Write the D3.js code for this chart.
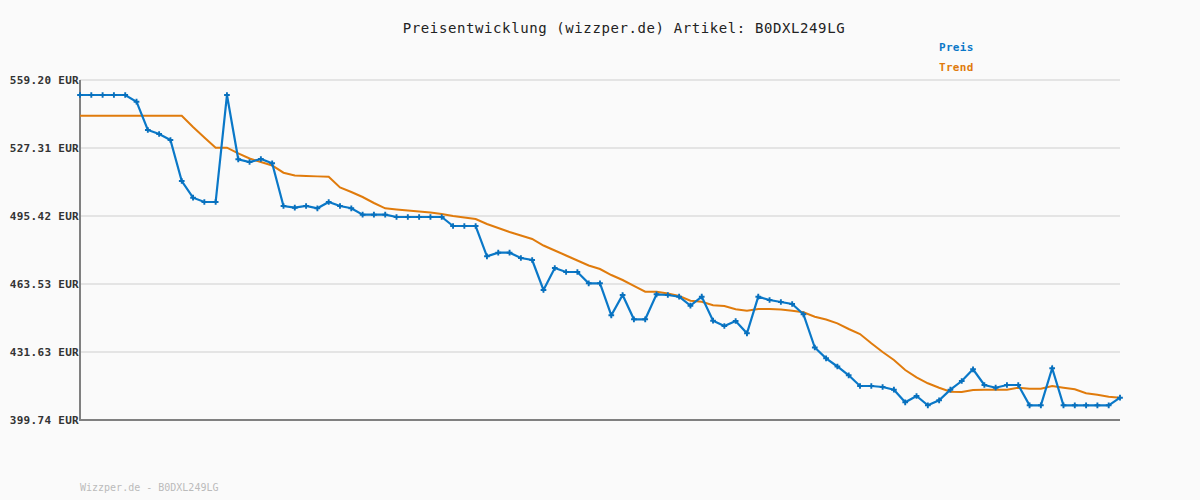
<!DOCTYPE html>
<html><head><meta charset="utf-8">
<script src="https://cdn.jsdelivr.net/npm/d3@7"></script>
<style>
html,body{margin:0;padding:0;background:#fafafa;}
svg{display:block;font-family:"DejaVu Sans Mono",monospace;}
</style></head>
<body><svg id="chart" width="1200" height="500"></svg>
<script>
const titleText = "Preisentwicklung (wizzper.de) Artikel: B0DXL249LG";
const footerText = "Wizzper.de - B0DXL249LG";
const seriesNames = ["Preis", "Trend"];
const yTicks = [399.74, 431.63, 463.53, 495.42, 527.31, 559.20];
const preis = [552.16,552.16,552.16,552.16,552.16,549.02,535.75,533.87,531.06,511.83,
504.00,501.98,501.98,552.16,522.01,520.74,522.15,520.13,500.11,499.31,
500.11,499.03,501.98,500.11,499.03,496.03,496.03,496.03,494.95,494.95,
494.95,494.95,494.95,490.73,490.73,490.73,476.52,478.20,478.20,475.72,
474.78,460.71,471.03,469.15,469.15,463.85,463.85,448.84,458.36,446.97,
446.97,458.69,458.36,457.57,453.35,457.57,446.31,443.83,446.17,440.40,
457.57,456.02,455.08,454.14,449.31,433.74,428.68,424.83,420.70,415.69,
415.69,415.22,413.95,408.04,411.00,406.63,408.98,413.95,418.03,423.52,
416.15,414.89,416.15,416.15,406.63,406.63,423.99,406.63,406.63,406.63,
406.63,406.63,410.20];
const trend = [542.46,542.46,542.46,542.46,542.46,542.46,542.46,542.46,542.46,542.46,
537.16,532.23,527.45,527.45,524.82,522.38,520.74,519.10,515.72,514.41,
514.18,514.00,513.85,508.78,506.67,504.33,501.51,499.03,498.46,498.00,
497.53,497.06,496.35,495.42,494.71,494.01,491.66,489.79,487.91,486.27,
484.63,481.58,479.24,476.89,474.55,472.20,470.56,467.74,465.40,462.59,
459.91,459.91,459.07,457.90,455.69,455.22,453.53,453.20,451.66,451.00,
451.80,451.80,451.56,451.00,450.25,448.19,446.87,445.09,442.42,440.07,
435.71,431.63,427.88,423.19,419.77,416.95,414.89,413.01,412.87,413.81,
413.95,413.95,413.95,414.89,414.42,414.42,415.69,414.89,414.14,412.26,
411.61,410.67,410.20];

const svg = d3.select("#chart");
const L = 80, R = 1120, T = 80, B = 420;
const x = d3.scaleLinear().domain([0, preis.length - 1]).range([L, R]);
const y = d3.scaleLinear().domain([yTicks[0], yTicks[yTicks.length - 1]]).range([B, T]);
const blue = "#0a78c8", orange = "#e07b0c";

// grid
svg.append("g").selectAll("line").data(yTicks.slice(1)).join("line")
  .attr("x1", L).attr("x2", R).attr("y1", d => y(d)).attr("y2", d => y(d))
  .attr("stroke", "#e4e4e4").attr("stroke-width", 2);

// y axis labels
const yAxis = d3.axisLeft(y).tickValues(yTicks).tickSize(0).tickPadding(1)
  .tickFormat(d => d.toFixed(2) + " EUR");
const ya = svg.append("g").attr("transform", `translate(${L},0)`).call(yAxis);
ya.select(".domain").remove();
ya.selectAll("text").attr("font-family", "DejaVu Sans Mono, monospace")
  .attr("font-size", 11).attr("font-weight", "bold").attr("fill", "#333")
  .attr("letter-spacing", "0.3px");

// axis lines
svg.append("line").attr("x1", L).attr("x2", L).attr("y1", T).attr("y2", B + 1)
  .attr("stroke", "#808080").attr("stroke-width", 2);
svg.append("line").attr("x1", L - 1).attr("x2", R).attr("y1", B).attr("y2", B)
  .attr("stroke", "#808080").attr("stroke-width", 2);

// trend
const line = d3.line().x((d, i) => x(i)).y(d => y(d));
svg.append("path").datum(trend).attr("d", line).attr("fill", "none")
  .attr("stroke", orange).attr("stroke-width", 2);
// preis
svg.append("path").datum(preis).attr("d", line).attr("fill", "none")
  .attr("stroke", blue).attr("stroke-width", 2.2);
svg.append("g").selectAll("path").data(preis).join("path")
  .attr("transform", (d, i) => `translate(${x(i)},${y(d)})`)
  .attr("d", d3.symbol().type(d3.symbolCross).size(18))
  .attr("fill", "#0870bd");

// title
svg.append("text").attr("x", 624).attr("y", 33).attr("text-anchor", "middle")
  .attr("font-size", 14).attr("letter-spacing", "0.6px").attr("fill", "#222")
  .text(titleText);

// legend
const legColors = [blue, orange];
svg.append("g").selectAll("text").data(seriesNames).join("text")
  .attr("x", 939).attr("y", (d, i) => 51 + i * 20)
  .attr("font-size", 11).attr("font-weight", "bold").attr("letter-spacing", "0.3px")
  .attr("fill", (d, i) => legColors[i]).text(d => d);

// footer
svg.append("text").attr("x", 80).attr("y", 491).attr("font-size", 10)
  .attr("fill", "#bbbbbb").text(footerText);
</script></body></html>
